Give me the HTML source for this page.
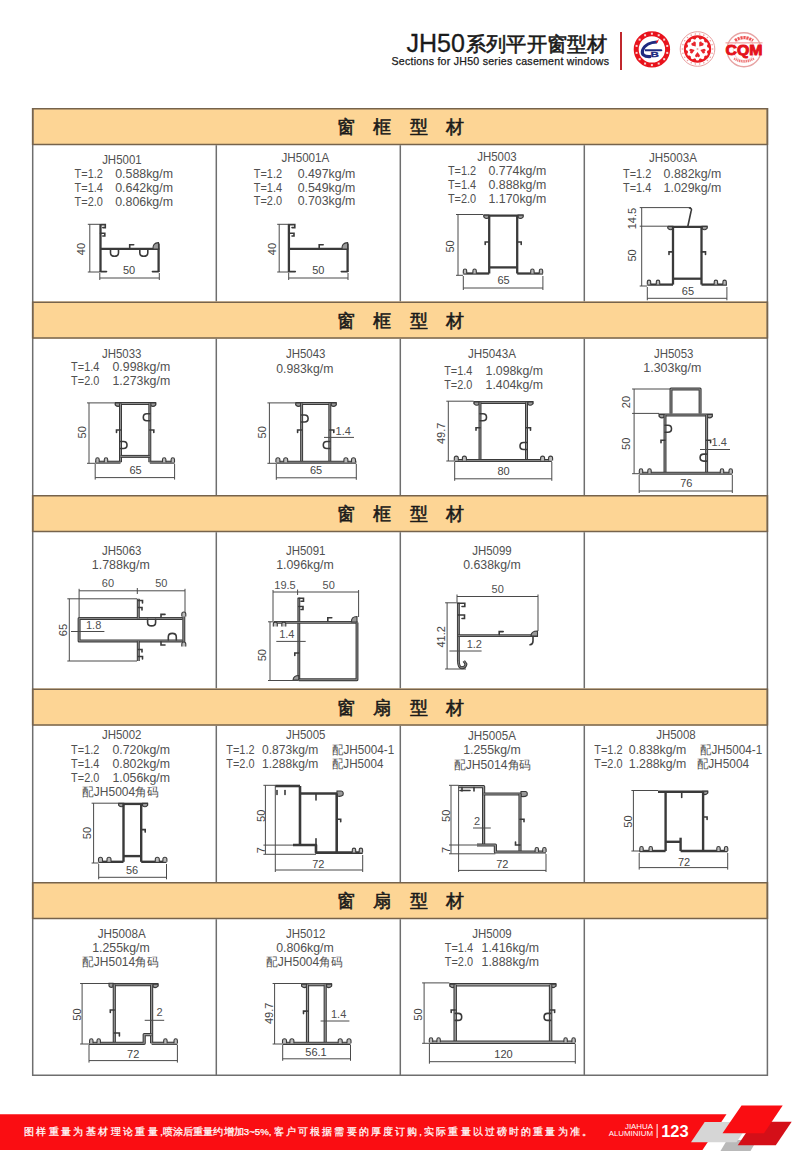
<!DOCTYPE html>
<html><head><meta charset="utf-8">
<style>
*{margin:0;padding:0}
html,body{width:800px;height:1167px;background:#fff;overflow:hidden}
svg{position:absolute;left:0;top:0;font-family:"Liberation Sans",sans-serif}
.d{stroke:#4a4a4a;stroke-width:1;fill:none}
.p{stroke:#3a3a3a;stroke-width:2.3;fill:none;stroke-linejoin:round}
.pt{stroke:#3a3a3a;stroke-width:1.6;fill:none;stroke-linecap:round}
.f{fill:#9a9a9a;stroke:#3a3a3a;stroke-width:1.1}
.pi{stroke:#9a9a9a;fill:none;stroke-linejoin:round;stroke-linecap:butt}
.tl{fill:#bbb;stroke:#3a3a3a;stroke-width:1.1}
.g{stroke:#777;stroke-width:1.6;fill:none}
</style></head><body>
<svg width="800" height="1167" viewBox="0 0 800 1167">

<text x="406.5" y="51.5" font-size="25" fill="#1a1a1a" stroke="#1a1a1a" stroke-width="0.3" textLength="58.5" lengthAdjust="spacingAndGlyphs">JH50</text>
<text x="466" y="50.5" font-size="20" fill="#1a1a1a" stroke="#1a1a1a" stroke-width="0.6" textLength="141.5" lengthAdjust="spacingAndGlyphs">系列平开窗型材</text>
<text x="391.5" y="64.5" font-size="10.6" fill="#1a1a1a" stroke="#1a1a1a" stroke-width="0.25" textLength="217.5" lengthAdjust="spacing">Sections for JH50 series casement windows</text>
<rect x="620" y="32" width="2" height="38" fill="#c0272d"/>
<rect x="32" y="108" width="736" height="37" fill="#fdd595"/>
<line x1="32" y1="108.7" x2="768" y2="108.7" stroke="#76634c" stroke-width="1.6"/>
<line x1="32" y1="144.5" x2="768" y2="144.5" stroke="#76634c" stroke-width="1.6"/>
<text x="345.5" y="133.2" font-size="18" text-anchor="middle" fill="#1a1a1a" stroke="#1a1a1a" stroke-width="0.55">窗</text>
<text x="382.0" y="133.2" font-size="18" text-anchor="middle" fill="#1a1a1a" stroke="#1a1a1a" stroke-width="0.55">框</text>
<text x="418.5" y="133.2" font-size="18" text-anchor="middle" fill="#1a1a1a" stroke="#1a1a1a" stroke-width="0.55">型</text>
<text x="455.0" y="133.2" font-size="18" text-anchor="middle" fill="#1a1a1a" stroke="#1a1a1a" stroke-width="0.55">材</text>
<line x1="216.3" y1="145.2" x2="216.3" y2="301.5" stroke="#6e6e6e" stroke-width="1.5"/>
<line x1="400.3" y1="145.2" x2="400.3" y2="301.5" stroke="#6e6e6e" stroke-width="1.5"/>
<line x1="584.3" y1="145.2" x2="584.3" y2="301.5" stroke="#6e6e6e" stroke-width="1.5"/>
<rect x="32" y="301.5" width="736" height="37" fill="#fdd595"/>
<line x1="32" y1="302.2" x2="768" y2="302.2" stroke="#76634c" stroke-width="1.6"/>
<line x1="32" y1="338.0" x2="768" y2="338.0" stroke="#76634c" stroke-width="1.6"/>
<text x="345.5" y="326.7" font-size="18" text-anchor="middle" fill="#1a1a1a" stroke="#1a1a1a" stroke-width="0.55">窗</text>
<text x="382.0" y="326.7" font-size="18" text-anchor="middle" fill="#1a1a1a" stroke="#1a1a1a" stroke-width="0.55">框</text>
<text x="418.5" y="326.7" font-size="18" text-anchor="middle" fill="#1a1a1a" stroke="#1a1a1a" stroke-width="0.55">型</text>
<text x="455.0" y="326.7" font-size="18" text-anchor="middle" fill="#1a1a1a" stroke="#1a1a1a" stroke-width="0.55">材</text>
<line x1="216.3" y1="338.7" x2="216.3" y2="495" stroke="#6e6e6e" stroke-width="1.5"/>
<line x1="400.3" y1="338.7" x2="400.3" y2="495" stroke="#6e6e6e" stroke-width="1.5"/>
<line x1="584.3" y1="338.7" x2="584.3" y2="495" stroke="#6e6e6e" stroke-width="1.5"/>
<rect x="32" y="495" width="736" height="37" fill="#fdd595"/>
<line x1="32" y1="495.7" x2="768" y2="495.7" stroke="#76634c" stroke-width="1.6"/>
<line x1="32" y1="531.5" x2="768" y2="531.5" stroke="#76634c" stroke-width="1.6"/>
<text x="345.5" y="520.2" font-size="18" text-anchor="middle" fill="#1a1a1a" stroke="#1a1a1a" stroke-width="0.55">窗</text>
<text x="382.0" y="520.2" font-size="18" text-anchor="middle" fill="#1a1a1a" stroke="#1a1a1a" stroke-width="0.55">框</text>
<text x="418.5" y="520.2" font-size="18" text-anchor="middle" fill="#1a1a1a" stroke="#1a1a1a" stroke-width="0.55">型</text>
<text x="455.0" y="520.2" font-size="18" text-anchor="middle" fill="#1a1a1a" stroke="#1a1a1a" stroke-width="0.55">材</text>
<line x1="216.3" y1="532.2" x2="216.3" y2="688.5" stroke="#6e6e6e" stroke-width="1.5"/>
<line x1="400.3" y1="532.2" x2="400.3" y2="688.5" stroke="#6e6e6e" stroke-width="1.5"/>
<line x1="584.3" y1="532.2" x2="584.3" y2="688.5" stroke="#6e6e6e" stroke-width="1.5"/>
<rect x="32" y="688.5" width="736" height="37" fill="#fdd595"/>
<line x1="32" y1="689.2" x2="768" y2="689.2" stroke="#76634c" stroke-width="1.6"/>
<line x1="32" y1="725.0" x2="768" y2="725.0" stroke="#76634c" stroke-width="1.6"/>
<text x="345.5" y="713.7" font-size="18" text-anchor="middle" fill="#1a1a1a" stroke="#1a1a1a" stroke-width="0.55">窗</text>
<text x="382.0" y="713.7" font-size="18" text-anchor="middle" fill="#1a1a1a" stroke="#1a1a1a" stroke-width="0.55">扇</text>
<text x="418.5" y="713.7" font-size="18" text-anchor="middle" fill="#1a1a1a" stroke="#1a1a1a" stroke-width="0.55">型</text>
<text x="455.0" y="713.7" font-size="18" text-anchor="middle" fill="#1a1a1a" stroke="#1a1a1a" stroke-width="0.55">材</text>
<line x1="216.3" y1="725.7" x2="216.3" y2="882" stroke="#6e6e6e" stroke-width="1.5"/>
<line x1="400.3" y1="725.7" x2="400.3" y2="882" stroke="#6e6e6e" stroke-width="1.5"/>
<line x1="584.3" y1="725.7" x2="584.3" y2="882" stroke="#6e6e6e" stroke-width="1.5"/>
<rect x="32" y="882" width="736" height="37" fill="#fdd595"/>
<line x1="32" y1="882.7" x2="768" y2="882.7" stroke="#76634c" stroke-width="1.6"/>
<line x1="32" y1="918.5" x2="768" y2="918.5" stroke="#76634c" stroke-width="1.6"/>
<text x="345.5" y="907.2" font-size="18" text-anchor="middle" fill="#1a1a1a" stroke="#1a1a1a" stroke-width="0.55">窗</text>
<text x="382.0" y="907.2" font-size="18" text-anchor="middle" fill="#1a1a1a" stroke="#1a1a1a" stroke-width="0.55">扇</text>
<text x="418.5" y="907.2" font-size="18" text-anchor="middle" fill="#1a1a1a" stroke="#1a1a1a" stroke-width="0.55">型</text>
<text x="455.0" y="907.2" font-size="18" text-anchor="middle" fill="#1a1a1a" stroke="#1a1a1a" stroke-width="0.55">材</text>
<line x1="216.3" y1="919.2" x2="216.3" y2="1075" stroke="#6e6e6e" stroke-width="1.5"/>
<line x1="400.3" y1="919.2" x2="400.3" y2="1075" stroke="#6e6e6e" stroke-width="1.5"/>
<line x1="584.3" y1="919.2" x2="584.3" y2="1075" stroke="#6e6e6e" stroke-width="1.5"/>
<line x1="32.7" y1="108" x2="32.7" y2="1076" stroke="#6e6e6e" stroke-width="1.5"/>
<line x1="767.4" y1="108" x2="767.4" y2="1076" stroke="#6e6e6e" stroke-width="1.5"/>
<line x1="32" y1="1075.3" x2="768" y2="1075.3" stroke="#6e6e6e" stroke-width="1.5"/>
<line x1="32.7" y1="108" x2="32.7" y2="145" stroke="#76634c" stroke-width="1.6"/>
<line x1="767.4" y1="108" x2="767.4" y2="145" stroke="#76634c" stroke-width="1.6"/>
<line x1="32.7" y1="301.5" x2="32.7" y2="338.5" stroke="#76634c" stroke-width="1.6"/>
<line x1="767.4" y1="301.5" x2="767.4" y2="338.5" stroke="#76634c" stroke-width="1.6"/>
<line x1="32.7" y1="495" x2="32.7" y2="532" stroke="#76634c" stroke-width="1.6"/>
<line x1="767.4" y1="495" x2="767.4" y2="532" stroke="#76634c" stroke-width="1.6"/>
<line x1="32.7" y1="688.5" x2="32.7" y2="725.5" stroke="#76634c" stroke-width="1.6"/>
<line x1="767.4" y1="688.5" x2="767.4" y2="725.5" stroke="#76634c" stroke-width="1.6"/>
<line x1="32.7" y1="882" x2="32.7" y2="919" stroke="#76634c" stroke-width="1.6"/>
<line x1="767.4" y1="882" x2="767.4" y2="919" stroke="#76634c" stroke-width="1.6"/>
<text x="121.9" y="163.8" font-size="12.4" text-anchor="middle" fill="#505050" textLength="39.5" lengthAdjust="spacingAndGlyphs" >JH5001</text>
<text x="74.6" y="177.6" font-size="12.4" text-anchor="start" fill="#505050" textLength="28.2" lengthAdjust="spacingAndGlyphs" >T=1.2</text>
<text x="115.2" y="177.6" font-size="12.4" text-anchor="start" fill="#505050" textLength="57.8" lengthAdjust="spacingAndGlyphs" >0.588kg/m</text>
<text x="74.6" y="191.9" font-size="12.4" text-anchor="start" fill="#505050" textLength="28.2" lengthAdjust="spacingAndGlyphs" >T=1.4</text>
<text x="115.2" y="191.9" font-size="12.4" text-anchor="start" fill="#505050" textLength="57.8" lengthAdjust="spacingAndGlyphs" >0.642kg/m</text>
<text x="74.6" y="206" font-size="12.4" text-anchor="start" fill="#505050" textLength="28.2" lengthAdjust="spacingAndGlyphs" >T=2.0</text>
<text x="115.2" y="206" font-size="12.4" text-anchor="start" fill="#505050" textLength="57.8" lengthAdjust="spacingAndGlyphs" >0.806kg/m</text>
<line class="d" x1="89.8" y1="224.3" x2="89.8" y2="272"/>
<line class="d" x1="87.8" y1="224.3" x2="100" y2="224.3"/>
<line class="d" x1="87.8" y1="272" x2="100" y2="272"/>
<text transform="translate(81.5,249) rotate(-90)" x="0" y="3.96" font-size="11" text-anchor="middle" fill="#444">40</text>
<line class="d" x1="99.8" y1="278" x2="159.3" y2="278"/>
<line class="d" x1="99.8" y1="273" x2="99.8" y2="280"/>
<line class="d" x1="159.3" y1="273" x2="159.3" y2="280"/>
<text x="129" y="274.46" font-size="11" text-anchor="middle" fill="#444">50</text>
<path class="p" style="stroke-width:2.3" d="M100.5,224.3 V272"/>
<path class="pt" d="M100.5,224.6 H105.3 V227.6 H102.8"/>
<path class="pt" d="M100.5,233.2 H104.8 V236 H102.8"/>
<path class="p" style="stroke-width:2.3" d="M100.5,248.8 H159.3"/>
<path class="p" style="stroke-width:2.3" d="M158.6,243.5 V272"/>
<path class="f" d="M153,249 Q152.5,243 158.5,242.6 V249 Z"/>
<path class="pt" d="M100.5,271.6 H106.5"/>
<path class="pt" d="M152.4,271.6 H158.6"/>
<path class="pt" d="M110.5,249.8 V252.8 Q110.5,256.3 114.5,256.3 Q118.5,256.3 118.5,252.8 V249.8"/>
<path class="pt" d="M139.8,249.8 V252.8 Q139.8,256.3 143.8,256.3 Q147.8,256.3 147.8,252.8 V249.8"/>
<path class="pt" d="M129.7,247.8 V244.8 H133.7"/>
<text x="305.4" y="162.2" font-size="12.4" text-anchor="middle" fill="#505050" textLength="48" lengthAdjust="spacingAndGlyphs" >JH5001A</text>
<text x="253.8" y="177.7" font-size="12.4" text-anchor="start" fill="#505050" textLength="28.2" lengthAdjust="spacingAndGlyphs" >T=1.2</text>
<text x="297.7" y="177.7" font-size="12.4" text-anchor="start" fill="#505050" textLength="57.7" lengthAdjust="spacingAndGlyphs" >0.497kg/m</text>
<text x="253.8" y="191.5" font-size="12.4" text-anchor="start" fill="#505050" textLength="28.2" lengthAdjust="spacingAndGlyphs" >T=1.4</text>
<text x="297.7" y="191.5" font-size="12.4" text-anchor="start" fill="#505050" textLength="57.7" lengthAdjust="spacingAndGlyphs" >0.549kg/m</text>
<text x="253.8" y="204.8" font-size="12.4" text-anchor="start" fill="#505050" textLength="28.2" lengthAdjust="spacingAndGlyphs" >T=2.0</text>
<text x="297.7" y="204.8" font-size="12.4" text-anchor="start" fill="#505050" textLength="57.7" lengthAdjust="spacingAndGlyphs" >0.703kg/m</text>
<line class="d" x1="279.2" y1="224.3" x2="279.2" y2="272"/>
<line class="d" x1="277.2" y1="224.3" x2="289" y2="224.3"/>
<line class="d" x1="277.2" y1="272" x2="289" y2="272"/>
<text transform="translate(271.8,249) rotate(-90)" x="0" y="3.96" font-size="11" text-anchor="middle" fill="#444">40</text>
<line class="d" x1="288.7" y1="278" x2="348" y2="278"/>
<line class="d" x1="288.7" y1="273" x2="288.7" y2="280"/>
<line class="d" x1="348" y1="273" x2="348" y2="280"/>
<text x="318.3" y="274.46" font-size="11" text-anchor="middle" fill="#444">50</text>
<path class="p" style="stroke-width:2.3" d="M288.9,224.3 V272"/>
<path class="pt" d="M288.9,224.6 H294.8 V227.6 H292"/>
<path class="pt" d="M288.9,233.2 H294 V236 H292"/>
<path class="p" style="stroke-width:2.3" d="M288.9,248.8 H348.2"/>
<path class="p" style="stroke-width:2.3" d="M347.6,243.5 V272"/>
<path class="f" d="M342,249 Q341.5,243 347.6,242.6 V249 Z"/>
<path class="pt" d="M288.9,271.6 H295.3"/>
<path class="pt" d="M341.3,271.6 H347.6"/>
<path class="pt" d="M319.2,247.8 V244.8 H323.2"/>
<text x="497" y="161.4" font-size="12.4" text-anchor="middle" fill="#505050" textLength="39.5" lengthAdjust="spacingAndGlyphs" >JH5003</text>
<text x="447.9" y="174.9" font-size="12.4" text-anchor="start" fill="#505050" textLength="28.2" lengthAdjust="spacingAndGlyphs" >T=1.2</text>
<text x="488.5" y="174.9" font-size="12.4" text-anchor="start" fill="#505050" textLength="57.7" lengthAdjust="spacingAndGlyphs" >0.774kg/m</text>
<text x="447.9" y="189" font-size="12.4" text-anchor="start" fill="#505050" textLength="28.2" lengthAdjust="spacingAndGlyphs" >T=1.4</text>
<text x="488.5" y="189" font-size="12.4" text-anchor="start" fill="#505050" textLength="57.7" lengthAdjust="spacingAndGlyphs" >0.888kg/m</text>
<text x="447.9" y="203.2" font-size="12.4" text-anchor="start" fill="#505050" textLength="28.2" lengthAdjust="spacingAndGlyphs" >T=2.0</text>
<text x="488.5" y="203.2" font-size="12.4" text-anchor="start" fill="#505050" textLength="57.7" lengthAdjust="spacingAndGlyphs" >1.170kg/m</text>
<line class="d" x1="458" y1="214.5" x2="458" y2="275.3"/>
<line class="d" x1="456" y1="214.5" x2="483" y2="214.5"/>
<line class="d" x1="456" y1="275.3" x2="463" y2="275.3"/>
<text transform="translate(450.1,246.4) rotate(-90)" x="0" y="3.96" font-size="11" text-anchor="middle" fill="#444">50</text>
<line class="d" x1="463.3" y1="288" x2="542.9" y2="288"/>
<line class="d" x1="463.3" y1="276" x2="463.3" y2="290"/>
<line class="d" x1="542.9" y1="276" x2="542.9" y2="290"/>
<text x="503.5" y="284.46" font-size="11" text-anchor="middle" fill="#444">65</text>
<path class="p" style="stroke-width:2.3" d="M483.4,215.6 H523.6"/>
<path class="f" d="M483.9,215.1 H488.9 V217.6 Q486.4,219.6 483.9,217.1 Z"/>
<path class="f" d="M523.1,215.1 H518.1 V217.6 Q520.6,219.6 523.1,217.1 Z"/>
<path class="p" style="stroke-width:2.3" d="M489.2,215.6 V273.5"/>
<path class="p" style="stroke-width:2.3" d="M517.2,215.6 V273.5"/>
<path class="p" style="stroke-width:2.3" d="M489.2,267.4 H517.2"/>
<path class="pt" d="M489.2,242 H485.2 V244.5"/>
<path class="pt" d="M517.2,242 H521.2 V244.5"/>
<path class="p" style="stroke-width:2.3" d="M463.3,273.5 H489.2"/>
<path class="p" style="stroke-width:2.3" d="M517.2,273.5 H542.9"/>
<path class="tl" d="M463.3,273.5 V270.7 Q463.3,269.0 465,269.0 Q466.7,269.0 466.7,270.7 V273.5"/>
<path class="tl" d="M472.90000000000003,273.5 V270.7 Q472.90000000000003,269.0 474.6,269.0 Q476.3,269.0 476.3,270.7 V273.5"/>
<path class="tl" d="M530.6999999999999,273.5 V270.7 Q530.6999999999999,269.0 532.4,269.0 Q534.1,269.0 534.1,270.7 V273.5"/>
<path class="tl" d="M539.3,273.5 V270.7 Q539.3,269.0 541,269.0 Q542.7,269.0 542.7,270.7 V273.5"/>
<text x="673" y="162.2" font-size="12.4" text-anchor="middle" fill="#505050" textLength="48" lengthAdjust="spacingAndGlyphs" >JH5003A</text>
<text x="623" y="177.7" font-size="12.4" text-anchor="start" fill="#505050" textLength="28.2" lengthAdjust="spacingAndGlyphs" >T=1.2</text>
<text x="663.6" y="177.7" font-size="12.4" text-anchor="start" fill="#505050" textLength="57.7" lengthAdjust="spacingAndGlyphs" >0.882kg/m</text>
<text x="623" y="192" font-size="12.4" text-anchor="start" fill="#505050" textLength="28.2" lengthAdjust="spacingAndGlyphs" >T=1.4</text>
<text x="663.6" y="192" font-size="12.4" text-anchor="start" fill="#505050" textLength="57.7" lengthAdjust="spacingAndGlyphs" >1.029kg/m</text>
<line class="d" x1="641.7" y1="207.6" x2="641.7" y2="286"/>
<line class="d" x1="639.7" y1="207.6" x2="691" y2="207.6"/>
<line class="d" x1="639.7" y1="286" x2="647" y2="286"/>
<line class="d" x1="639.7" y1="226.2" x2="667" y2="226.2"/>
<text transform="translate(632.4,218.6) rotate(-90)" x="0" y="3.96" font-size="11" text-anchor="middle" fill="#444">14.5</text>
<text transform="translate(632.4,255.4) rotate(-90)" x="0" y="3.96" font-size="11" text-anchor="middle" fill="#444">50</text>
<line class="d" x1="647.3" y1="298.3" x2="726.9" y2="298.3"/>
<line class="d" x1="647.3" y1="287" x2="647.3" y2="300.3"/>
<line class="d" x1="726.9" y1="287" x2="726.9" y2="300.3"/>
<text x="687.9" y="294.96" font-size="11" text-anchor="middle" fill="#444">65</text>
<path class="pt" d="M689.5,208 Q692.5,208.5 691,211.5 L687.8,226.5"/>
<path class="p" style="stroke-width:2.3" d="M667.4,226.9 H707.6"/>
<path class="f" d="M667.9,226.4 H672.9 V228.9 Q670.4,230.9 667.9,228.4 Z"/>
<path class="f" d="M707.1,226.4 H702.1 V228.9 Q704.6,230.9 707.1,228.4 Z"/>
<path class="p" style="stroke-width:2.3" d="M673,226.9 V284.6"/>
<path class="p" style="stroke-width:2.3" d="M701.5,226.9 V284.6"/>
<path class="p" style="stroke-width:2.3" d="M673,278.7 H701.5"/>
<path class="pt" d="M673,251.9 H669 V254.4"/>
<path class="pt" d="M701.5,251.9 H705.5 V254.4"/>
<path class="p" style="stroke-width:2.3" d="M647.3,284.6 H673"/>
<path class="p" style="stroke-width:2.3" d="M701.5,284.6 H726.9"/>
<path class="tl" d="M647.3,284.6 V281.8 Q647.3,280.1 649,280.1 Q650.7,280.1 650.7,281.8 V284.6"/>
<path class="tl" d="M656.3,284.6 V281.8 Q656.3,280.1 658,280.1 Q659.7,280.1 659.7,281.8 V284.6"/>
<path class="tl" d="M714.1999999999999,284.6 V281.8 Q714.1999999999999,280.1 715.9,280.1 Q717.6,280.1 717.6,281.8 V284.6"/>
<path class="tl" d="M722.9,284.6 V281.8 Q722.9,280.1 724.6,280.1 Q726.3000000000001,280.1 726.3000000000001,281.8 V284.6"/>
<text x="121.7" y="357.5" font-size="12.4" text-anchor="middle" fill="#505050" textLength="39.5" lengthAdjust="spacingAndGlyphs" >JH5033</text>
<text x="71.1" y="371.3" font-size="12.4" text-anchor="start" fill="#505050" textLength="28.2" lengthAdjust="spacingAndGlyphs" >T=1.4</text>
<text x="112.5" y="371.3" font-size="12.4" text-anchor="start" fill="#505050" textLength="57.7" lengthAdjust="spacingAndGlyphs" >0.998kg/m</text>
<text x="71.1" y="385.1" font-size="12.4" text-anchor="start" fill="#505050" textLength="28.2" lengthAdjust="spacingAndGlyphs" >T=2.0</text>
<text x="112.5" y="385.1" font-size="12.4" text-anchor="start" fill="#505050" textLength="57.7" lengthAdjust="spacingAndGlyphs" >1.273kg/m</text>
<line class="d" x1="89" y1="402.9" x2="89" y2="463.3"/>
<line class="d" x1="87" y1="402.9" x2="114.8" y2="402.9"/>
<line class="d" x1="87" y1="463.3" x2="95" y2="463.3"/>
<text transform="translate(82.1,432.3) rotate(-90)" x="0" y="3.96" font-size="11" text-anchor="middle" fill="#444">50</text>
<line class="d" x1="95.2" y1="477.6" x2="174.6" y2="477.6"/>
<line class="d" x1="95.2" y1="464" x2="95.2" y2="479.6"/>
<line class="d" x1="174.6" y1="464" x2="174.6" y2="479.6"/>
<text x="135.5" y="474.26" font-size="11" text-anchor="middle" fill="#444">65</text>
<path class="p" style="stroke-width:3.0" d="M114.8,403.5 H156.2"/>
<path class="pi" style="stroke-width:0.90" d="M114.8,403.5 H156.2"/>
<path class="f" d="M115.3,403.0 H120.3 V405.5 Q117.8,407.5 115.3,405.0 Z"/>
<path class="f" d="M155.7,403.0 H150.7 V405.5 Q153.2,407.5 155.7,405.0 Z"/>
<path class="p" style="stroke-width:3.0" d="M120.5,403.5 V462.2"/>
<path class="pi" style="stroke-width:0.90" d="M120.5,403.5 V462.2"/>
<path class="p" style="stroke-width:3.0" d="M149.8,403.5 V462.2"/>
<path class="pi" style="stroke-width:0.90" d="M149.8,403.5 V462.2"/>
<path class="p" style="stroke-width:3.0" d="M120.5,456.4 H149.8"/>
<path class="pi" style="stroke-width:0.90" d="M120.5,456.4 H149.8"/>
<path class="pt" d="M149.8,413.8 H146.8 Q143.3,413.8 143.3,417.3 Q143.3,420.8 146.8,420.8 H149.8"/>
<path class="pt" d="M120.5,441.5 H123.5 Q127.0,441.5 127.0,445 Q127.0,448.5 123.5,448.5 H120.5"/>
<path class="pt" d="M120.5,430 H116.5 V432.5"/>
<path class="pt" d="M149.8,430 H153.8 V432.5"/>
<path class="p" style="stroke-width:3.0" d="M95.2,462.2 H120.5"/>
<path class="pi" style="stroke-width:0.90" d="M95.2,462.2 H120.5"/>
<path class="p" style="stroke-width:3.0" d="M149.8,462.2 H174.6"/>
<path class="pi" style="stroke-width:0.90" d="M149.8,462.2 H174.6"/>
<path class="tl" d="M95.8,462.2 V459.4 Q95.8,457.7 97.5,457.7 Q99.2,457.7 99.2,459.4 V462.2"/>
<path class="tl" d="M104.3,462.2 V459.4 Q104.3,457.7 106,457.7 Q107.7,457.7 107.7,459.4 V462.2"/>
<path class="tl" d="M162.5,462.2 V459.4 Q162.5,457.7 164.2,457.7 Q165.89999999999998,457.7 165.89999999999998,459.4 V462.2"/>
<path class="tl" d="M171.10000000000002,462.2 V459.4 Q171.10000000000002,457.7 172.8,457.7 Q174.5,457.7 174.5,459.4 V462.2"/>
<text x="305.7" y="357.5" font-size="12.4" text-anchor="middle" fill="#505050" textLength="39.5" lengthAdjust="spacingAndGlyphs" >JH5043</text>
<text x="304.8" y="372.5" font-size="12.4" text-anchor="middle" fill="#505050" textLength="57" lengthAdjust="spacingAndGlyphs" >0.983kg/m</text>
<line class="d" x1="269.4" y1="402.9" x2="269.4" y2="463.3"/>
<line class="d" x1="267.4" y1="402.9" x2="295.3" y2="402.9"/>
<line class="d" x1="267.4" y1="463.3" x2="276.3" y2="463.3"/>
<text transform="translate(262,432.3) rotate(-90)" x="0" y="3.96" font-size="11" text-anchor="middle" fill="#444">50</text>
<line class="d" x1="276.3" y1="477.8" x2="356.3" y2="477.8"/>
<line class="d" x1="276.3" y1="464" x2="276.3" y2="479.8"/>
<line class="d" x1="356.3" y1="464" x2="356.3" y2="479.8"/>
<text x="316" y="474.26" font-size="11" text-anchor="middle" fill="#444">65</text>
<path class="p" style="stroke-width:3.0" d="M295.3,403.5 H336.7"/>
<path class="pi" style="stroke-width:0.90" d="M295.3,403.5 H336.7"/>
<path class="f" d="M295.8,403.0 H300.8 V405.5 Q298.3,407.5 295.8,405.0 Z"/>
<path class="f" d="M336.2,403.0 H331.2 V405.5 Q333.7,407.5 336.2,405.0 Z"/>
<path class="p" style="stroke-width:3.0" d="M301.6,403.5 V462.2"/>
<path class="pi" style="stroke-width:0.90" d="M301.6,403.5 V462.2"/>
<path class="p" style="stroke-width:3.0" d="M329.8,403.5 V462.2"/>
<path class="pi" style="stroke-width:0.90" d="M329.8,403.5 V462.2"/>
<path class="pt" d="M301.6,415.0 H304.6 Q308.1,415.0 308.1,418.5 Q308.1,422.0 304.6,422.0 H301.6"/>
<path class="pt" d="M329.8,441.5 H326.8 Q323.3,441.5 323.3,445 Q323.3,448.5 326.8,448.5 H329.8"/>
<path class="pt" d="M301.6,430 H297.6 V432.5"/>
<path class="pt" d="M329.8,430 H333.8 V432.5"/>
<path class="p" style="stroke-width:3.0" d="M276.3,462.2 H356.3"/>
<path class="pi" style="stroke-width:0.90" d="M276.3,462.2 H356.3"/>
<path class="tl" d="M275.9,462.2 V459.7 Q275.9,457.7 277.9,457.7 Q279.9,457.7 279.9,459.7 V462.2"/>
<path class="tl" d="M283.7,462.2 V459.7 Q283.7,457.7 285.7,457.7 Q287.7,457.7 287.7,459.7 V462.2"/>
<path class="tl" d="M343.9,462.2 V459.7 Q343.9,457.7 345.9,457.7 Q347.9,457.7 347.9,459.7 V462.2"/>
<path class="tl" d="M351.5,462.2 V459.7 Q351.5,457.7 353.5,457.7 Q355.5,457.7 355.5,459.7 V462.2"/>
<text x="335.6" y="434.6" font-size="11" text-anchor="start" fill="#505050" >1.4</text>
<line class="d" x1="324" y1="437.4" x2="354" y2="437.4"/>
<text x="492" y="357.5" font-size="12.4" text-anchor="middle" fill="#505050" textLength="48" lengthAdjust="spacingAndGlyphs" >JH5043A</text>
<text x="444.2" y="374.8" font-size="12.4" text-anchor="start" fill="#505050" textLength="28.2" lengthAdjust="spacingAndGlyphs" >T=1.4</text>
<text x="485.6" y="374.8" font-size="12.4" text-anchor="start" fill="#505050" textLength="57.4" lengthAdjust="spacingAndGlyphs" >1.098kg/m</text>
<text x="444.2" y="389" font-size="12.4" text-anchor="start" fill="#505050" textLength="28.2" lengthAdjust="spacingAndGlyphs" >T=2.0</text>
<text x="485.6" y="389" font-size="12.4" text-anchor="start" fill="#505050" textLength="57.4" lengthAdjust="spacingAndGlyphs" >1.404kg/m</text>
<line class="d" x1="448.3" y1="401.2" x2="448.3" y2="461"/>
<line class="d" x1="446.3" y1="401.2" x2="473.6" y2="401.2"/>
<line class="d" x1="446.3" y1="461" x2="454.7" y2="461"/>
<text transform="translate(441.4,433.4) rotate(-90)" x="0" y="3.96" font-size="11" text-anchor="middle" fill="#444">49.7</text>
<line class="d" x1="454.7" y1="478.8" x2="551.8" y2="478.8"/>
<line class="d" x1="454.7" y1="462" x2="454.7" y2="480.8"/>
<line class="d" x1="551.8" y1="462" x2="551.8" y2="480.8"/>
<text x="503.5" y="474.96" font-size="11" text-anchor="middle" fill="#444">80</text>
<path class="p" style="stroke-width:3.0" d="M473.6,402.4 H533.4"/>
<path class="pi" style="stroke-width:0.90" d="M473.6,402.4 H533.4"/>
<path class="f" d="M474.1,401.9 H479.1 V404.4 Q476.6,406.4 474.1,403.9 Z"/>
<path class="f" d="M532.9,401.9 H527.9 V404.4 Q530.4,406.4 532.9,403.9 Z"/>
<path class="p" style="stroke-width:3.0" d="M480,402.4 V460.6"/>
<path class="pi" style="stroke-width:0.90" d="M480,402.4 V460.6"/>
<path class="p" style="stroke-width:3.0" d="M526.5,402.4 V460.6"/>
<path class="pi" style="stroke-width:0.90" d="M526.5,402.4 V460.6"/>
<path class="pt" d="M480,413.8 H483 Q486.5,413.8 486.5,417.3 Q486.5,420.8 483,420.8 H480"/>
<path class="pt" d="M526.5,442.5 H523.5 Q520.0,442.5 520.0,446 Q520.0,449.5 523.5,449.5 H526.5"/>
<path class="pt" d="M480,427.7 H476 V430.2"/>
<path class="pt" d="M526.5,427.7 H530.5 V430.2"/>
<path class="p" style="stroke-width:3.0" d="M454.7,460.6 H551.8"/>
<path class="pi" style="stroke-width:0.90" d="M454.7,460.6 H551.8"/>
<path class="tl" d="M454.3,460.6 V458.1 Q454.3,456.1 456.3,456.1 Q458.3,456.1 458.3,458.1 V460.6"/>
<path class="tl" d="M462.4,460.6 V458.1 Q462.4,456.1 464.4,456.1 Q466.4,456.1 466.4,458.1 V460.6"/>
<path class="tl" d="M540.6,460.6 V458.1 Q540.6,456.1 542.6,456.1 Q544.6,456.1 544.6,458.1 V460.6"/>
<path class="tl" d="M548.6,460.6 V458.1 Q548.6,456.1 550.6,456.1 Q552.6,456.1 552.6,458.1 V460.6"/>
<text x="673.7" y="357.5" font-size="12.4" text-anchor="middle" fill="#505050" textLength="39.5" lengthAdjust="spacingAndGlyphs" >JH5053</text>
<text x="672.3" y="372" font-size="12.4" text-anchor="middle" fill="#505050" textLength="58" lengthAdjust="spacingAndGlyphs" >1.303kg/m</text>
<line class="d" x1="634.1" y1="389" x2="634.1" y2="473.7"/>
<line class="d" x1="632.1" y1="389" x2="671" y2="389"/>
<line class="d" x1="632.1" y1="473.7" x2="639.2" y2="473.7"/>
<line class="d" x1="632.1" y1="413.4" x2="659" y2="413.4"/>
<text transform="translate(626.5,402) rotate(-90)" x="0" y="3.96" font-size="11" text-anchor="middle" fill="#444">20</text>
<text transform="translate(626.5,443.8) rotate(-90)" x="0" y="3.96" font-size="11" text-anchor="middle" fill="#444">50</text>
<line class="d" x1="639.2" y1="491" x2="732.3" y2="491"/>
<line class="d" x1="639.2" y1="475" x2="639.2" y2="493"/>
<line class="d" x1="732.3" y1="475" x2="732.3" y2="493"/>
<text x="686.3" y="486.96" font-size="11" text-anchor="middle" fill="#444">76</text>
<path class="p" style="stroke-width:3.0" d="M671,413.4 V389 H700.1 V413.4"/>
<path class="pi" style="stroke-width:0.90" d="M671,413.4 V389 H700.1 V413.4"/>
<path class="p" style="stroke-width:3.0" d="M658.7,415 H712.8"/>
<path class="pi" style="stroke-width:0.90" d="M658.7,415 H712.8"/>
<path class="f" d="M659.2,414.5 H664.2 V417 Q661.7,419 659.2,416.5 Z"/>
<path class="f" d="M712.3,414.5 H707.3 V417 Q709.8,419 712.3,416.5 Z"/>
<path class="p" style="stroke-width:3.0" d="M665,415 V473.2"/>
<path class="pi" style="stroke-width:0.90" d="M665,415 V473.2"/>
<path class="p" style="stroke-width:3.0" d="M706.6,415 V473.2"/>
<path class="pi" style="stroke-width:0.90" d="M706.6,415 V473.2"/>
<path class="pt" d="M665,425.3 H668 Q671.5,425.3 671.5,428.8 Q671.5,432.3 668,432.3 H665"/>
<path class="pt" d="M706.6,454.1 H703.6 Q700.1,454.1 700.1,457.6 Q700.1,461.1 703.6,461.1 H706.6"/>
<path class="pt" d="M665,440.3 H661 V442.8"/>
<path class="pt" d="M706.6,440.3 H710.6 V442.8"/>
<path class="p" style="stroke-width:3.0" d="M639.2,473.2 H732.3"/>
<path class="pi" style="stroke-width:0.90" d="M639.2,473.2 H732.3"/>
<path class="tl" d="M639.3,473.2 V470.4 Q639.3,468.7 641,468.7 Q642.7,468.7 642.7,470.4 V473.2"/>
<path class="tl" d="M647.8,473.2 V470.4 Q647.8,468.7 649.5,468.7 Q651.2,468.7 651.2,470.4 V473.2"/>
<path class="tl" d="M720.3,473.2 V470.4 Q720.3,468.7 722,468.7 Q723.7,468.7 723.7,470.4 V473.2"/>
<path class="tl" d="M729.0,473.2 V470.4 Q729.0,468.7 730.7,468.7 Q732.4000000000001,468.7 732.4000000000001,470.4 V473.2"/>
<text x="711.6" y="445.6" font-size="11" text-anchor="start" fill="#505050" >1.4</text>
<line class="d" x1="700" y1="449.5" x2="730" y2="449.5"/>
<text x="121.7" y="555.1" font-size="12.4" text-anchor="middle" fill="#505050" textLength="39.5" lengthAdjust="spacingAndGlyphs" >JH5063</text>
<text x="120.8" y="569" font-size="12.4" text-anchor="middle" fill="#505050" textLength="58" lengthAdjust="spacingAndGlyphs" >1.788kg/m</text>
<text x="107.9" y="587.3" font-size="11" text-anchor="middle" fill="#505050" >60</text>
<text x="161.3" y="587.3" font-size="11" text-anchor="middle" fill="#505050" >50</text>
<line class="d" x1="79.1" y1="590.8" x2="185" y2="590.8"/>
<line class="d" x1="137.3" y1="588" x2="137.3" y2="594"/>
<line class="d" x1="79.1" y1="588.8" x2="79.1" y2="617.5"/>
<line class="d" x1="185" y1="588.8" x2="185" y2="613"/>
<line class="d" x1="69.3" y1="598.8" x2="69.3" y2="661"/>
<line class="d" x1="67.3" y1="598.8" x2="137" y2="598.8"/>
<line class="d" x1="67.3" y1="661" x2="137" y2="661"/>
<text transform="translate(63,630) rotate(-90)" x="0" y="3.96" font-size="11" text-anchor="middle" fill="#444">65</text>
<path class="p" style="stroke-width:3.0" d="M182.6,618.4 H79.1 V640.9 H182.6"/>
<path class="pi" style="stroke-width:0.90" d="M182.6,618.4 H79.1 V640.9 H182.6"/>
<path class="p" style="stroke-width:3.0" d="M138.3,598.8 V618.4"/>
<path class="pi" style="stroke-width:0.90" d="M138.3,598.8 V618.4"/>
<path class="p" style="stroke-width:3.0" d="M138.3,640.9 V661"/>
<path class="pi" style="stroke-width:0.90" d="M138.3,640.9 V661"/>
<path class="pt" d="M138.3,600.5 H142.5 V603"/>
<path class="pt" d="M138.3,607.5 H142 V610"/>
<path class="pt" d="M138.3,649.5 H142 V652"/>
<path class="pt" d="M138.3,656.5 H142.5 V659"/>
<path class="p" style="stroke-width:3.0" d="M183.8,614.5 V644.5"/>
<path class="pi" style="stroke-width:0.90" d="M183.8,614.5 V644.5"/>
<path class="tl" d="M181.8,616.5 V614.0 Q181.8,612.0 183.8,612.0 Q185.8,612.0 185.8,614.0 V616.5"/>
<path class="tl" d="M181.8,646.5 V644.0 Q181.8,642.0 183.8,642.0 Q185.8,642.0 185.8,644.0 V646.5"/>
<path class="pt" d="M147.6,619.4 V622.4 Q147.6,625.9 151.6,625.9 Q155.6,625.9 155.6,622.4 V619.4"/>
<path class="pt" d="M168.3,639.9 V636.9 Q168.3,633.4 172.3,633.4 Q176.3,633.4 176.3,636.9 V639.9"/>
<path class="pt" d="M161,617.4 V614.4 H165"/>
<path class="pt" d="M161,641.9 V645 H165"/>
<text x="86" y="628.7" font-size="11" text-anchor="start" fill="#505050" >1.8</text>
<line class="d" x1="71" y1="631.5" x2="104.4" y2="631.5"/>
<text x="305.7" y="555.1" font-size="12.4" text-anchor="middle" fill="#505050" textLength="39.5" lengthAdjust="spacingAndGlyphs" >JH5091</text>
<text x="305" y="569" font-size="12.4" text-anchor="middle" fill="#505050" textLength="57.5" lengthAdjust="spacingAndGlyphs" >1.096kg/m</text>
<text x="285" y="588.5" font-size="11" text-anchor="middle" fill="#505050" >19.5</text>
<text x="328.7" y="588.5" font-size="11" text-anchor="middle" fill="#505050" >50</text>
<line class="d" x1="273" y1="592" x2="358.6" y2="592"/>
<line class="d" x1="297.6" y1="589.5" x2="297.6" y2="595"/>
<line class="d" x1="273" y1="590" x2="273" y2="621"/>
<line class="d" x1="358.6" y1="590" x2="358.6" y2="617"/>
<path class="p" style="stroke-width:2.9" d="M298.8,597.7 V680.5"/>
<path class="pi" style="stroke-width:0.80" d="M298.8,597.7 V680.5"/>
<path class="pt" d="M298.8,598.3 H303.5 V601.3 H301"/>
<path class="pt" d="M298.8,606.5 H303 V609.5 H301"/>
<path class="p" style="stroke-width:2.9" d="M273.5,622.4 H357.4"/>
<path class="pi" style="stroke-width:0.80" d="M273.5,622.4 H357.4"/>
<path class="p" style="stroke-width:2.9" d="M357,622.4 V679.7 H298.8"/>
<path class="pi" style="stroke-width:0.80" d="M357,622.4 V679.7 H298.8"/>
<path class="f" d="M351.5,622 Q351,616.5 357,616.5 V622 Z"/>
<path class="tl" d="M273.3,626.6 V624.1 Q273.3,622.1 275.3,622.1 Q277.3,622.1 277.3,624.1 V626.6"/>
<path class="tl" d="M281.8,626.6 V624.1 Q281.8,622.1 283.8,622.1 Q285.8,622.1 285.8,624.1 V626.6"/>
<path class="pt" d="M327.8,620.8 V617.8 H331.8"/>
<path class="pt" d="M298.8,653 H294.8 V655.5"/>
<path class="f" d="M293,680 Q293.5,675.5 298.8,675.5 V680 Z"/>
<line class="d" x1="270" y1="621.8" x2="270" y2="680.5"/>
<line class="d" x1="268" y1="621.8" x2="273" y2="621.8"/>
<line class="d" x1="268" y1="680.5" x2="298" y2="680.5"/>
<text transform="translate(262,655.2) rotate(-90)" x="0" y="3.96" font-size="11" text-anchor="middle" fill="#444">50</text>
<text x="279.2" y="638" font-size="11" text-anchor="start" fill="#505050" >1.4</text>
<line class="d" x1="276.3" y1="641.4" x2="305.7" y2="641.4"/>
<text x="492" y="555.1" font-size="12.4" text-anchor="middle" fill="#505050" textLength="39.5" lengthAdjust="spacingAndGlyphs" >JH5099</text>
<text x="492" y="569" font-size="12.4" text-anchor="middle" fill="#505050" textLength="57.5" lengthAdjust="spacingAndGlyphs" >0.638kg/m</text>
<text x="497.7" y="593.1" font-size="11" text-anchor="middle" fill="#505050" >50</text>
<line class="d" x1="457" y1="596.5" x2="538" y2="596.5"/>
<line class="d" x1="538" y1="594.5" x2="538" y2="631"/>
<line class="d" x1="457" y1="594.5" x2="457" y2="602"/>
<line class="d" x1="447.1" y1="602.8" x2="447.1" y2="669"/>
<line class="d" x1="445.1" y1="602.8" x2="458" y2="602.8"/>
<line class="d" x1="445.1" y1="669" x2="466" y2="669"/>
<text transform="translate(441.4,636.8) rotate(-90)" x="0" y="3.96" font-size="11" text-anchor="middle" fill="#444">41.2</text>
<path class="p" style="stroke-width:2.9" d="M458.4,602.8 V660.5 Q458.4,667.8 462,667.8 Q465.5,667.8 466,664 L463.8,661"/>
<path class="pi" style="stroke-width:0.80" d="M458.4,602.8 V660.5 Q458.4,667.8 462,667.8 Q465.5,667.8 466,664 L463.8,661"/>
<path class="pt" d="M458.2,603.3 H464.8 V606.5 H462"/>
<path class="pt" d="M458.2,615 H464.5 V618.5 H462"/>
<path class="p" style="stroke-width:2.9" d="M458.2,635.6 H538"/>
<path class="pi" style="stroke-width:0.80" d="M458.2,635.6 H538"/>
<path class="pt" d="M499.2,634.6 V631.6 H503.2"/>
<path class="f" d="M531,636 Q531,631 537.5,631 V636 Z"/>
<path class="pt" d="M533,636.5 V641 Q533,644.5 530,644.8"/>
<text x="466.7" y="648.3" font-size="11" text-anchor="start" fill="#505050" >1.2</text>
<line class="d" x1="449.4" y1="651" x2="481.6" y2="651"/>
<text x="121.7" y="739.3" font-size="12.4" text-anchor="middle" fill="#505050" textLength="39.5" lengthAdjust="spacingAndGlyphs" >JH5002</text>
<text x="71.1" y="753.7" font-size="12.4" text-anchor="start" fill="#505050" textLength="28.2" lengthAdjust="spacingAndGlyphs" >T=1.2</text>
<text x="112.5" y="753.7" font-size="12.4" text-anchor="start" fill="#505050" textLength="57.5" lengthAdjust="spacingAndGlyphs" >0.720kg/m</text>
<text x="71.1" y="767.7" font-size="12.4" text-anchor="start" fill="#505050" textLength="28.2" lengthAdjust="spacingAndGlyphs" >T=1.4</text>
<text x="112.5" y="767.7" font-size="12.4" text-anchor="start" fill="#505050" textLength="57.5" lengthAdjust="spacingAndGlyphs" >0.802kg/m</text>
<text x="71.1" y="781.5" font-size="12.4" text-anchor="start" fill="#505050" textLength="28.2" lengthAdjust="spacingAndGlyphs" >T=2.0</text>
<text x="112.5" y="781.5" font-size="12.4" text-anchor="start" fill="#505050" textLength="57.5" lengthAdjust="spacingAndGlyphs" >1.056kg/m</text>
<text x="120.3" y="796" font-size="12.4" text-anchor="middle" fill="#505050" textLength="76.4" lengthAdjust="spacingAndGlyphs" >配JH5004角码</text>
<line class="d" x1="93.6" y1="803.2" x2="93.6" y2="863"/>
<line class="d" x1="91.6" y1="803.2" x2="118.2" y2="803.2"/>
<line class="d" x1="91.6" y1="863" x2="98.7" y2="863"/>
<text transform="translate(87.2,833.1) rotate(-90)" x="0" y="3.96" font-size="11" text-anchor="middle" fill="#444">50</text>
<line class="d" x1="98.7" y1="877.3" x2="166.5" y2="877.3"/>
<line class="d" x1="98.7" y1="864" x2="98.7" y2="879.3"/>
<line class="d" x1="166.5" y1="864" x2="166.5" y2="879.3"/>
<text x="132" y="874.46" font-size="11" text-anchor="middle" fill="#444">56</text>
<path class="p" style="stroke-width:2.4" d="M118.2,803.9 H148.1"/>
<path class="f" d="M118.7,803.4 H123.7 V805.9 Q121.2,807.9 118.7,805.4 Z"/>
<path class="f" d="M147.6,803.4 H142.6 V805.9 Q145.1,807.9 147.6,805.4 Z"/>
<path class="p" style="stroke-width:2.4" d="M123.5,803.9 V861.8"/>
<path class="p" style="stroke-width:2.4" d="M141.2,803.9 V861.8"/>
<path class="p" style="stroke-width:2.4" d="M123.5,856.1 H141.2"/>
<path class="pt" d="M141.2,829.6 H145.2 V832.1"/>
<path class="p" style="stroke-width:2.4" d="M98.7,861.8 H123.5"/>
<path class="p" style="stroke-width:2.4" d="M141.2,861.8 H166.5"/>
<path class="tl" d="M98.5,861.8 V859.3 Q98.5,857.3 100.5,857.3 Q102.5,857.3 102.5,859.3 V861.8"/>
<path class="tl" d="M107,861.8 V859.3 Q107,857.3 109,857.3 Q111,857.3 111,859.3 V861.8"/>
<path class="tl" d="M155.3,861.8 V859.3 Q155.3,857.3 157.3,857.3 Q159.3,857.3 159.3,859.3 V861.8"/>
<path class="tl" d="M162.9,861.8 V859.3 Q162.9,857.3 164.9,857.3 Q166.9,857.3 166.9,859.3 V861.8"/>
<text x="305.7" y="739.3" font-size="12.4" text-anchor="middle" fill="#505050" textLength="39.5" lengthAdjust="spacingAndGlyphs" >JH5005</text>
<text x="226.3" y="754.4" font-size="12.4" text-anchor="start" fill="#505050" textLength="28.2" lengthAdjust="spacingAndGlyphs" >T=1.2</text>
<text x="262" y="754.4" font-size="12.4" text-anchor="start" fill="#505050" textLength="56.3" lengthAdjust="spacingAndGlyphs" >0.873kg/m</text>
<text x="332.1" y="754.4" font-size="12.4" text-anchor="start" fill="#505050" textLength="62.1" lengthAdjust="spacingAndGlyphs" >配JH5004-1</text>
<text x="226.3" y="768.2" font-size="12.4" text-anchor="start" fill="#505050" textLength="28.2" lengthAdjust="spacingAndGlyphs" >T=2.0</text>
<text x="262" y="768.2" font-size="12.4" text-anchor="start" fill="#505050" textLength="56.3" lengthAdjust="spacingAndGlyphs" >1.288kg/m</text>
<text x="332.1" y="768.2" font-size="12.4" text-anchor="start" fill="#505050" textLength="51.3" lengthAdjust="spacingAndGlyphs" >配JH5004</text>
<line class="d" x1="265.4" y1="785.3" x2="265.4" y2="854.3"/>
<line class="d" x1="263.4" y1="785.3" x2="275.3" y2="785.3"/>
<line class="d" x1="263.4" y1="854.3" x2="316" y2="854.3"/>
<line class="d" x1="263.4" y1="845.1" x2="293" y2="845.1"/>
<text transform="translate(260.8,815.8) rotate(-90)" x="0" y="3.96" font-size="11" text-anchor="middle" fill="#444">50</text>
<text transform="translate(260.8,850.3) rotate(-90)" x="0" y="3.96" font-size="11" text-anchor="middle" fill="#444">7</text>
<line class="d" x1="275.3" y1="785.3" x2="275.3" y2="872"/>
<line class="d" x1="362.7" y1="855" x2="362.7" y2="872"/>
<line class="d" x1="275.3" y1="870" x2="362.7" y2="870"/>
<text x="318.3" y="868.16" font-size="11" text-anchor="middle" fill="#444">72</text>
<path class="p" style="stroke-width:2.6" d="M275.3,786 H300"/>
<path class="pt" d="M277,790.5 V794.5"/>
<path class="pt" d="M285,790.5 V794.5"/>
<path class="p" style="stroke-width:2.6" d="M300,786 V845"/>
<path class="p" style="stroke-width:2.6" d="M300,793.5 H340"/>
<path class="f" d="M337,791 H341 Q344,791.5 343,795 Q341,797 337,796 Z"/>
<path class="p" style="stroke-width:2.6" d="M336.7,793.5 V852.6"/>
<path class="pt" d="M316,794.5 V800"/>
<path class="pt" d="M336.7,819.3 H340.7 V821.8"/>
<path class="p" style="stroke-width:2.6" d="M293,845 H316 V852.6 H362.7"/>
<path class="pt" d="M316,838.8 V845"/>
<path class="tl" d="M352.3,852.6 V849.8000000000001 Q352.3,848.1 354,848.1 Q355.7,848.1 355.7,849.8000000000001 V852.6"/>
<path class="tl" d="M359.2,852.6 V849.8000000000001 Q359.2,848.1 360.9,848.1 Q362.59999999999997,848.1 362.59999999999997,849.8000000000001 V852.6"/>
<text x="492" y="740" font-size="12.4" text-anchor="middle" fill="#505050" textLength="48" lengthAdjust="spacingAndGlyphs" >JH5005A</text>
<text x="492" y="754.4" font-size="12.4" text-anchor="middle" fill="#505050" textLength="57.5" lengthAdjust="spacingAndGlyphs" >1.255kg/m</text>
<text x="492.5" y="768.7" font-size="12.4" text-anchor="middle" fill="#505050" textLength="77" lengthAdjust="spacingAndGlyphs" >配JH5014角码</text>
<line class="d" x1="451" y1="785.3" x2="451" y2="853.8"/>
<line class="d" x1="449" y1="785.3" x2="458.6" y2="785.3"/>
<line class="d" x1="449" y1="853.8" x2="495.4" y2="853.8"/>
<line class="d" x1="449" y1="845" x2="477" y2="845"/>
<text transform="translate(446,815.8) rotate(-90)" x="0" y="3.96" font-size="11" text-anchor="middle" fill="#444">50</text>
<text transform="translate(446,849.9) rotate(-90)" x="0" y="3.96" font-size="11" text-anchor="middle" fill="#444">7</text>
<line class="d" x1="458.6" y1="785.3" x2="458.6" y2="872"/>
<line class="d" x1="546" y1="854" x2="546" y2="872"/>
<line class="d" x1="458.6" y1="870.4" x2="546" y2="870.4"/>
<text x="502.3" y="868.16" font-size="11" text-anchor="middle" fill="#444">72</text>
<path class="p" style="stroke-width:3.2" d="M458.6,786.6 H483.6 V845"/>
<path class="pi" style="stroke-width:1.10" d="M458.6,786.6 H483.6 V845"/>
<path class="pt" d="M460,790.5 H470"/>
<path class="pt" d="M462,787.5 V791 M474,787.5 V791"/>
<path class="p" style="stroke-width:3.2" d="M483.6,794 H524"/>
<path class="pi" style="stroke-width:1.10" d="M483.6,794 H524"/>
<path class="f" d="M521,791.5 H525.5 Q528,792 527,795.5 Q525,797 521,796.5 Z"/>
<path class="p" style="stroke-width:3.2" d="M520,794 V852"/>
<path class="pi" style="stroke-width:1.10" d="M520,794 V852"/>
<path class="pt" d="M520,819.3 H524 V821.8"/>
<path class="pt" d="M520,845 H515.5 V842"/>
<path class="p" style="stroke-width:3.2" d="M477,845 H495.4 V852 H546"/>
<path class="pi" style="stroke-width:1.10" d="M477,845 H495.4 V852 H546"/>
<path class="tl" d="M535.0999999999999,852 V849.2 Q535.0999999999999,847.5 536.8,847.5 Q538.5,847.5 538.5,849.2 V852"/>
<path class="tl" d="M542.6999999999999,852 V849.2 Q542.6999999999999,847.5 544.4,847.5 Q546.1,847.5 546.1,849.2 V852"/>
<text x="477" y="825" font-size="11" text-anchor="middle" fill="#505050" >2</text>
<line class="d" x1="473" y1="828" x2="490.8" y2="828"/>
<text x="676" y="739.3" font-size="12.4" text-anchor="middle" fill="#505050" textLength="39.5" lengthAdjust="spacingAndGlyphs" >JH5008</text>
<text x="594.3" y="754.4" font-size="12.4" text-anchor="start" fill="#505050" textLength="28.2" lengthAdjust="spacingAndGlyphs" >T=1.2</text>
<text x="628.8" y="754.4" font-size="12.4" text-anchor="start" fill="#505050" textLength="57.5" lengthAdjust="spacingAndGlyphs" >0.838kg/m</text>
<text x="700.1" y="754.4" font-size="12.4" text-anchor="start" fill="#505050" textLength="62.1" lengthAdjust="spacingAndGlyphs" >配JH5004-1</text>
<text x="594.3" y="768.2" font-size="12.4" text-anchor="start" fill="#505050" textLength="28.2" lengthAdjust="spacingAndGlyphs" >T=2.0</text>
<text x="628.8" y="768.2" font-size="12.4" text-anchor="start" fill="#505050" textLength="57.5" lengthAdjust="spacingAndGlyphs" >1.288kg/m</text>
<text x="696.7" y="768.2" font-size="12.4" text-anchor="start" fill="#505050" textLength="52.4" lengthAdjust="spacingAndGlyphs" >配JH5004</text>
<line class="d" x1="633.4" y1="790.5" x2="633.4" y2="851"/>
<line class="d" x1="631.4" y1="790.5" x2="658" y2="790.5"/>
<line class="d" x1="631.4" y1="851" x2="639.2" y2="851"/>
<text transform="translate(627.7,821.6) rotate(-90)" x="0" y="3.96" font-size="11" text-anchor="middle" fill="#444">50</text>
<line class="d" x1="639.2" y1="867.6" x2="727.7" y2="867.6"/>
<line class="d" x1="639.2" y1="853" x2="639.2" y2="869.6"/>
<line class="d" x1="727.7" y1="853" x2="727.7" y2="869.6"/>
<text x="684" y="865.96" font-size="11" text-anchor="middle" fill="#444">72</text>
<path class="p" style="stroke-width:2.4" d="M658,791.7 H708.2"/>
<path class="f" d="M707.7,791.2 H702.7 V793.7 Q705.2,795.7 707.7,793.2 Z"/>
<path class="p" style="stroke-width:2.4" d="M665.6,791.7 V851"/>
<path class="p" style="stroke-width:2.4" d="M703.1,791.7 V851"/>
<path class="pt" d="M681.7,792.5 V797.5"/>
<path class="pt" d="M703.1,817 H707.1 V819.5"/>
<path class="p" style="stroke-width:2.4" d="M665.6,841.8 H680.6"/>
<path class="p" style="stroke-width:2.4" d="M680.6,837.7 V851"/>
<path class="p" style="stroke-width:2.4" d="M639.2,851 H665.6"/>
<path class="p" style="stroke-width:2.4" d="M680.6,851 H727.7"/>
<path class="tl" d="M639.8,851 V848.2 Q639.8,846.5 641.5,846.5 Q643.2,846.5 643.2,848.2 V851"/>
<path class="tl" d="M649.0,851 V848.2 Q649.0,846.5 650.7,846.5 Q652.4000000000001,846.5 652.4000000000001,848.2 V851"/>
<path class="tl" d="M716.8,851 V848.2 Q716.8,846.5 718.5,846.5 Q720.2,846.5 720.2,848.2 V851"/>
<path class="tl" d="M724.4,851 V848.2 Q724.4,846.5 726.1,846.5 Q727.8000000000001,846.5 727.8000000000001,848.2 V851"/>
<text x="121.7" y="937.5" font-size="12.4" text-anchor="middle" fill="#505050" textLength="48" lengthAdjust="spacingAndGlyphs" >JH5008A</text>
<text x="121" y="952" font-size="12.4" text-anchor="middle" fill="#505050" textLength="57.5" lengthAdjust="spacingAndGlyphs" >1.255kg/m</text>
<text x="120.3" y="966.3" font-size="12.4" text-anchor="middle" fill="#505050" textLength="76.4" lengthAdjust="spacingAndGlyphs" >配JH5014角码</text>
<line class="d" x1="82.1" y1="983.5" x2="82.1" y2="1044"/>
<line class="d" x1="80.1" y1="983.5" x2="109" y2="983.5"/>
<line class="d" x1="80.1" y1="1044" x2="89" y2="1044"/>
<text transform="translate(76.8,1014.6) rotate(-90)" x="0" y="3.96" font-size="11" text-anchor="middle" fill="#444">50</text>
<line class="d" x1="89" y1="1060.6" x2="177.4" y2="1060.6"/>
<line class="d" x1="89" y1="1045" x2="89" y2="1062.6"/>
<line class="d" x1="177.4" y1="1045" x2="177.4" y2="1062.6"/>
<text x="133.2" y="1058.26" font-size="11" text-anchor="middle" fill="#444">72</text>
<path class="p" style="stroke-width:3.2" d="M109,984.7 H158.5"/>
<path class="pi" style="stroke-width:1.10" d="M109,984.7 H158.5"/>
<path class="f" d="M158.0,984.2 H153.0 V986.7 Q155.5,988.7 158.0,986.2 Z"/>
<path class="f" d="M109,983.3 H113 V987 Q110,988 109,986 Z"/>
<path class="p" style="stroke-width:3.2" d="M114.3,984.7 V1043.3"/>
<path class="pi" style="stroke-width:1.10" d="M114.3,984.7 V1043.3"/>
<path class="p" style="stroke-width:3.2" d="M151.6,984.7 V1043.3"/>
<path class="pi" style="stroke-width:1.10" d="M151.6,984.7 V1043.3"/>
<path class="pt" d="M114.3,1010 H110.3 V1012.5"/>
<path class="pt" d="M114.3,1033 H119.4 V1036"/>
<path class="p" style="stroke-width:3.2" d="M89,1043.3 H144.2 V1034.6 H151.6"/>
<path class="pi" style="stroke-width:1.10" d="M89,1043.3 H144.2 V1034.6 H151.6"/>
<path class="p" style="stroke-width:3.2" d="M151.6,1043.3 H177.4"/>
<path class="pi" style="stroke-width:1.10" d="M151.6,1043.3 H177.4"/>
<path class="tl" d="M89.6,1043.3 V1040.5 Q89.6,1038.8 91.3,1038.8 Q93.0,1038.8 93.0,1040.5 V1043.3"/>
<path class="tl" d="M97.0,1043.3 V1040.5 Q97.0,1038.8 98.7,1038.8 Q100.4,1038.8 100.4,1040.5 V1043.3"/>
<path class="tl" d="M163.70000000000002,1043.3 V1040.5 Q163.70000000000002,1038.8 165.4,1038.8 Q167.1,1038.8 167.1,1040.5 V1043.3"/>
<path class="tl" d="M174.0,1043.3 V1040.5 Q174.0,1038.8 175.7,1038.8 Q177.39999999999998,1038.8 177.39999999999998,1040.5 V1043.3"/>
<text x="159.6" y="1015.7" font-size="11" text-anchor="middle" fill="#505050" >2</text>
<line class="d" x1="144.7" y1="1020.3" x2="164.2" y2="1020.3"/>
<text x="305.7" y="937.5" font-size="12.4" text-anchor="middle" fill="#505050" textLength="39.5" lengthAdjust="spacingAndGlyphs" >JH5012</text>
<text x="305" y="952" font-size="12.4" text-anchor="middle" fill="#505050" textLength="57.5" lengthAdjust="spacingAndGlyphs" >0.806kg/m</text>
<text x="304.3" y="966.3" font-size="12.4" text-anchor="middle" fill="#505050" textLength="76.4" lengthAdjust="spacingAndGlyphs" >配JH5004角码</text>
<line class="d" x1="274.6" y1="983.5" x2="274.6" y2="1044"/>
<line class="d" x1="272.6" y1="983.5" x2="301.1" y2="983.5"/>
<line class="d" x1="272.6" y1="1044" x2="282.7" y2="1044"/>
<text transform="translate(269.4,1013.4) rotate(-90)" x="0" y="3.96" font-size="11" text-anchor="middle" fill="#444">49.7</text>
<line class="d" x1="282.7" y1="1058.8" x2="350.5" y2="1058.8"/>
<line class="d" x1="282.7" y1="1045" x2="282.7" y2="1060.8"/>
<line class="d" x1="350.5" y1="1045" x2="350.5" y2="1060.8"/>
<text x="316" y="1055.96" font-size="11" text-anchor="middle" fill="#444">56.1</text>
<path class="p" style="stroke-width:3.2" d="M301.1,984.7 H332.1"/>
<path class="pi" style="stroke-width:1.10" d="M301.1,984.7 H332.1"/>
<path class="f" d="M301.6,984.2 H306.6 V986.7 Q304.1,988.7 301.6,986.2 Z"/>
<path class="f" d="M331.6,984.2 H326.6 V986.7 Q329.1,988.7 331.6,986.2 Z"/>
<path class="p" style="stroke-width:3.2" d="M307.5,984.7 V1043.3"/>
<path class="pi" style="stroke-width:1.10" d="M307.5,984.7 V1043.3"/>
<path class="p" style="stroke-width:3.2" d="M325.2,984.7 V1043.3"/>
<path class="pi" style="stroke-width:1.10" d="M325.2,984.7 V1043.3"/>
<path class="pt" d="M307.5,1011.1 H303.5 V1013.6"/>
<path class="p" style="stroke-width:3.2" d="M282.7,1043.3 H350.5"/>
<path class="pi" style="stroke-width:1.10" d="M282.7,1043.3 H350.5"/>
<path class="tl" d="M282.5,1043.3 V1040.8 Q282.5,1038.8 284.5,1038.8 Q286.5,1038.8 286.5,1040.8 V1043.3"/>
<path class="tl" d="M289.9,1043.3 V1040.8 Q289.9,1038.8 291.9,1038.8 Q293.9,1038.8 293.9,1040.8 V1043.3"/>
<path class="tl" d="M338.2,1043.3 V1040.8 Q338.2,1038.8 340.2,1038.8 Q342.2,1038.8 342.2,1040.8 V1043.3"/>
<path class="tl" d="M347,1043.3 V1040.8 Q347,1038.8 349,1038.8 Q351,1038.8 351,1040.8 V1043.3"/>
<text x="331" y="1018" font-size="11" text-anchor="start" fill="#505050" >1.4</text>
<line class="d" x1="320.6" y1="1021" x2="349.4" y2="1021"/>
<text x="492" y="937.5" font-size="12.4" text-anchor="middle" fill="#505050" textLength="39.5" lengthAdjust="spacingAndGlyphs" >JH5009</text>
<text x="444.8" y="952" font-size="12.4" text-anchor="start" fill="#505050" textLength="28.2" lengthAdjust="spacingAndGlyphs" >T=1.4</text>
<text x="481.6" y="952" font-size="12.4" text-anchor="start" fill="#505050" textLength="57.5" lengthAdjust="spacingAndGlyphs" >1.416kg/m</text>
<text x="444.8" y="966.3" font-size="12.4" text-anchor="start" fill="#505050" textLength="28.2" lengthAdjust="spacingAndGlyphs" >T=2.0</text>
<text x="481.6" y="966.3" font-size="12.4" text-anchor="start" fill="#505050" textLength="57.5" lengthAdjust="spacingAndGlyphs" >1.888kg/m</text>
<line class="d" x1="424.1" y1="982.9" x2="424.1" y2="1043.3"/>
<line class="d" x1="422.1" y1="982.9" x2="449.4" y2="982.9"/>
<line class="d" x1="422.1" y1="1043.3" x2="429.4" y2="1043.3"/>
<text transform="translate(418.4,1014.6) rotate(-90)" x="0" y="3.96" font-size="11" text-anchor="middle" fill="#444">50</text>
<line class="d" x1="429.4" y1="1061.7" x2="575.3" y2="1061.7"/>
<line class="d" x1="429.4" y1="1044" x2="429.4" y2="1063.7"/>
<line class="d" x1="575.3" y1="1044" x2="575.3" y2="1063.7"/>
<text x="503.5" y="1058.26" font-size="11" text-anchor="middle" fill="#444">120</text>
<path class="p" style="stroke-width:3.5" d="M449.4,984.7 H556.4"/>
<path class="pi" style="stroke-width:1.40" d="M449.4,984.7 H556.4"/>
<path class="f" d="M449.9,984.2 H454.9 V986.7 Q452.4,988.7 449.9,986.2 Z"/>
<path class="f" d="M555.9,984.2 H550.9 V986.7 Q553.4,988.7 555.9,986.2 Z"/>
<path class="p" style="stroke-width:3.5" d="M455.2,984.7 V1042.2"/>
<path class="pi" style="stroke-width:1.40" d="M455.2,984.7 V1042.2"/>
<path class="p" style="stroke-width:3.5" d="M550.6,984.7 V1042.2"/>
<path class="pi" style="stroke-width:1.40" d="M550.6,984.7 V1042.2"/>
<path class="pt" d="M455.2,1013.4 H458.2 Q461.7,1013.4 461.7,1016.9 Q461.7,1020.4 458.2,1020.4 H455.2"/>
<path class="pt" d="M550.6,1013.4 H547.6 Q544.1,1013.4 544.1,1016.9 Q544.1,1020.4 547.6,1020.4 H550.6"/>
<path class="pt" d="M455.2,1010 H451.2 V1012.5"/>
<path class="pt" d="M550.6,1010 H554.6 V1012.5"/>
<path class="p" style="stroke-width:3.5" d="M429.4,1042.2 H575.3"/>
<path class="pi" style="stroke-width:1.40" d="M429.4,1042.2 H575.3"/>
<path class="tl" d="M429.3,1042.2 V1039.4 Q429.3,1037.7 431,1037.7 Q432.7,1037.7 432.7,1039.4 V1042.2"/>
<path class="tl" d="M436.90000000000003,1042.2 V1039.4 Q436.90000000000003,1037.7 438.6,1037.7 Q440.3,1037.7 440.3,1039.4 V1042.2"/>
<path class="tl" d="M563.9,1042.2 V1039.4 Q563.9,1037.7 565.6,1037.7 Q567.3000000000001,1037.7 567.3000000000001,1039.4 V1042.2"/>
<path class="tl" d="M571.9,1042.2 V1039.4 Q571.9,1037.7 573.6,1037.7 Q575.3000000000001,1037.7 575.3000000000001,1039.4 V1042.2"/>
<polygon points="0,1114.2 726.5,1114.2 702.5,1150 0,1150" fill="#fa0d12"/>
<polygon points="727,1140 757,1140 750.5,1151 720.5,1151" fill="#b9b9b9"/>
<polygon points="704.7,1122 750,1122 736.5,1142.2 691,1142.2" fill="#d6d6d6"/>
<polygon points="753.6,1121.7 791.7,1121.7 775.8,1145.2 737.7,1145.2" fill="#d40f18"/>
<polygon points="741.5,1105.5 782.7,1105.5 764,1133.2 722.5,1133.2" fill="#fa0d12"/>
<text x="23.8" y="1135" fill="#fff" font-size="9.5" stroke="#fff" stroke-width="0.25" textLength="139" lengthAdjust="spacing">图样重量为基材理论重量,</text>
<text x="162.5" y="1135" fill="#fff" font-size="9.5" stroke="#fff" stroke-width="0.25" textLength="109" lengthAdjust="spacingAndGlyphs">喷涂后重量约增加3~5%,</text>
<text x="273.8" y="1135" fill="#fff" font-size="9.5" stroke="#fff" stroke-width="0.25" textLength="318" lengthAdjust="spacing">客户可根据需要的厚度订购,实际重量以过磅时的重量为准。</text>
<text x="653" y="1129.3" fill="#fff" font-size="6.3" text-anchor="end" textLength="28" lengthAdjust="spacingAndGlyphs">JIAHUA</text>
<text x="653" y="1136.3" fill="#fff" font-size="6.3" text-anchor="end" textLength="44.3" lengthAdjust="spacingAndGlyphs">ALUMINIUM</text>
<rect x="656.6" y="1124" width="1" height="14" fill="#fff"/>
<text x="661.2" y="1137" fill="#fff" font-size="17" font-weight="bold" textLength="27.5" lengthAdjust="spacingAndGlyphs">123</text>
<circle cx="651.9" cy="49.4" r="15.7" fill="none" stroke="#e8121c" stroke-width="5"/>
<rect x="650.90" y="32.70" width="2" height="2" fill="#f9d6d6"/>
<rect x="657.71" y="34.25" width="2" height="2" fill="#f9d6d6"/>
<rect x="663.17" y="38.61" width="2" height="2" fill="#f9d6d6"/>
<rect x="666.21" y="44.91" width="2" height="2" fill="#f9d6d6"/>
<rect x="666.21" y="51.89" width="2" height="2" fill="#f9d6d6"/>
<rect x="663.17" y="58.19" width="2" height="2" fill="#f9d6d6"/>
<rect x="657.71" y="62.55" width="2" height="2" fill="#f9d6d6"/>
<rect x="650.90" y="64.10" width="2" height="2" fill="#f9d6d6"/>
<rect x="644.09" y="62.55" width="2" height="2" fill="#f9d6d6"/>
<rect x="638.63" y="58.19" width="2" height="2" fill="#f9d6d6"/>
<rect x="635.59" y="51.89" width="2" height="2" fill="#f9d6d6"/>
<rect x="635.59" y="44.91" width="2" height="2" fill="#f9d6d6"/>
<rect x="638.63" y="38.61" width="2" height="2" fill="#f9d6d6"/>
<rect x="644.09" y="34.25" width="2" height="2" fill="#f9d6d6"/>
<path d="M657,42 C651,42.2 644.5,44.8 642.6,50.3 C641.4,54.8 644.5,56.6 649,56.6 L651,56.5" fill="none" stroke="#1f2a80" stroke-width="3.2"/>
<path d="M645,49.3 H661.5 L662.5,50.3 L661.5,51.3 H645 Z" fill="#1f2a80"/>
<text x="650.6" y="56.6" font-size="7" font-weight="bold" fill="#1f2a80" stroke="#1f2a80" stroke-width="0.3" textLength="8.4" lengthAdjust="spacingAndGlyphs">B</text>
<path d="M655.5,42 L659,39 L657.5,43 Z" fill="#e8121c"/>
<circle cx="697.5" cy="49" r="17.3" fill="none" stroke="#e8a0a0" stroke-width="1"/>
<circle cx="712.70" cy="49.00" r="0.8" fill="#ef9d9d"/>
<circle cx="712.08" cy="53.28" r="0.8" fill="#ef9d9d"/>
<circle cx="710.29" cy="57.22" r="0.8" fill="#ef9d9d"/>
<circle cx="707.45" cy="60.49" r="0.8" fill="#ef9d9d"/>
<circle cx="703.81" cy="62.83" r="0.8" fill="#ef9d9d"/>
<circle cx="699.66" cy="64.05" r="0.8" fill="#ef9d9d"/>
<circle cx="695.34" cy="64.05" r="0.8" fill="#ef9d9d"/>
<circle cx="691.19" cy="62.83" r="0.8" fill="#ef9d9d"/>
<circle cx="687.55" cy="60.49" r="0.8" fill="#ef9d9d"/>
<circle cx="684.71" cy="57.22" r="0.8" fill="#ef9d9d"/>
<circle cx="682.92" cy="53.28" r="0.8" fill="#ef9d9d"/>
<circle cx="682.30" cy="49.00" r="0.8" fill="#ef9d9d"/>
<circle cx="682.92" cy="44.72" r="0.8" fill="#ef9d9d"/>
<circle cx="684.71" cy="40.78" r="0.8" fill="#ef9d9d"/>
<circle cx="687.55" cy="37.51" r="0.8" fill="#ef9d9d"/>
<circle cx="691.19" cy="35.17" r="0.8" fill="#ef9d9d"/>
<circle cx="695.34" cy="33.95" r="0.8" fill="#ef9d9d"/>
<circle cx="699.66" cy="33.95" r="0.8" fill="#ef9d9d"/>
<circle cx="703.81" cy="35.17" r="0.8" fill="#ef9d9d"/>
<circle cx="707.45" cy="37.51" r="0.8" fill="#ef9d9d"/>
<circle cx="710.29" cy="40.78" r="0.8" fill="#ef9d9d"/>
<circle cx="712.08" cy="44.72" r="0.8" fill="#ef9d9d"/>
<circle cx="697.5" cy="49" r="11.9" fill="none" stroke="#ea1a22" stroke-width="3.6"/>
<circle cx="697.5" cy="49" r="9.8" fill="#fff"/>
<circle cx="697.50" cy="39.10" r="1.7" fill="#fff"/>
<circle cx="702.45" cy="40.43" r="1.7" fill="#fff"/>
<circle cx="706.07" cy="44.05" r="1.7" fill="#fff"/>
<circle cx="707.40" cy="49.00" r="1.7" fill="#fff"/>
<circle cx="706.07" cy="53.95" r="1.7" fill="#fff"/>
<circle cx="702.45" cy="57.57" r="1.7" fill="#fff"/>
<circle cx="697.50" cy="58.90" r="1.7" fill="#fff"/>
<circle cx="692.55" cy="57.57" r="1.7" fill="#fff"/>
<circle cx="688.93" cy="53.95" r="1.7" fill="#fff"/>
<circle cx="687.60" cy="49.00" r="1.7" fill="#fff"/>
<circle cx="688.93" cy="44.05" r="1.7" fill="#fff"/>
<circle cx="692.55" cy="40.43" r="1.7" fill="#fff"/>
<path transform="translate(700.79,44.47) rotate(36.0)" d="M0,2.6 L-2.4,-0.6 Q-2.4,-2.6 -1.1,-2.6 Q0,-2.6 0,-1.4 Q0,-2.6 1.1,-2.6 Q2.4,-2.6 2.4,-0.6 Z" fill="#e8262e"/>
<path transform="translate(702.83,50.73) rotate(108.0)" d="M0,2.6 L-2.4,-0.6 Q-2.4,-2.6 -1.1,-2.6 Q0,-2.6 0,-1.4 Q0,-2.6 1.1,-2.6 Q2.4,-2.6 2.4,-0.6 Z" fill="#e8262e"/>
<path transform="translate(697.50,54.60) rotate(180.0)" d="M0,2.6 L-2.4,-0.6 Q-2.4,-2.6 -1.1,-2.6 Q0,-2.6 0,-1.4 Q0,-2.6 1.1,-2.6 Q2.4,-2.6 2.4,-0.6 Z" fill="#e8262e"/>
<path transform="translate(692.17,50.73) rotate(252.0)" d="M0,2.6 L-2.4,-0.6 Q-2.4,-2.6 -1.1,-2.6 Q0,-2.6 0,-1.4 Q0,-2.6 1.1,-2.6 Q2.4,-2.6 2.4,-0.6 Z" fill="#e8262e"/>
<path transform="translate(694.21,44.47) rotate(324.0)" d="M0,2.6 L-2.4,-0.6 Q-2.4,-2.6 -1.1,-2.6 Q0,-2.6 0,-1.4 Q0,-2.6 1.1,-2.6 Q2.4,-2.6 2.4,-0.6 Z" fill="#e8262e"/>
<circle cx="697.5" cy="49" r="1" fill="#f0a0a0"/>
<circle cx="744" cy="49.75" r="17" fill="none" stroke="#e7a3a3" stroke-width="1.3"/>
<circle cx="744" cy="49.75" r="10.8" fill="none" stroke="#f2c4c4" stroke-width="0.8"/>
<rect x="725.5" y="42.3" width="37" height="1.1" fill="#e99"/>
<path d="M735,40.5 Q744,34.5 753,40.5" fill="none" stroke="#e55" stroke-width="3" stroke-dasharray="2.2 0.8"/>
<path d="M734,58.5 Q744,64.5 754,58.5" fill="none" stroke="#e77" stroke-width="2.4" stroke-dasharray="1.2 0.6"/>
<text x="744" y="54.6" font-size="14.5" font-weight="bold" fill="#e5121b" stroke="#e5121b" stroke-width="0.9" text-anchor="middle" textLength="37" lengthAdjust="spacingAndGlyphs">CQM</text>
</svg></body></html>
